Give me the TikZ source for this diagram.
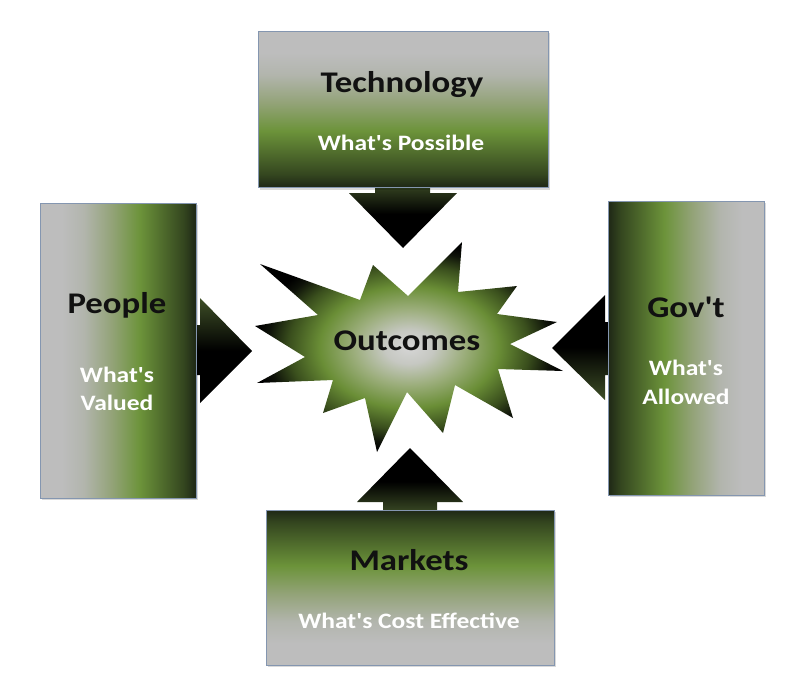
\documentclass[tikz,border=0pt]{standalone}
\usepackage{fontspec}
\setmainfont{Carlito}[FakeStretch=1.16, Ligatures=TeXOff]
\usetikzlibrary{shadings}
\definecolor{boxedge}{HTML}{8496B0}
\definecolor{txtdark}{HTML}{111111}
\definecolor{bxdark}{HTML}{1E2716}
\definecolor{bxdark2}{HTML}{34461F}
\definecolor{bxgreen}{HTML}{6C933A}
\definecolor{bxmid}{HTML}{93A378}
\definecolor{bxgrey1}{HTML}{B2B5AD}
\definecolor{bxgrey}{HTML}{BDBDBD}
\definecolor{stc0}{HTML}{D6D6D6}
\definecolor{stc1}{HTML}{C6C8C2}
\definecolor{stc2}{HTML}{9CAE7C}
\definecolor{stc3}{HTML}{6A8E36}
\definecolor{stc4}{HTML}{3A4F1D}
\definecolor{stc5}{HTML}{0E1209}
\definecolor{arrbase}{HTML}{3E4F27}
\pgfdeclareverticalshading{boxshade}{100bp}{color(0bp)=(bxdark); color(25bp)=(bxdark); color(29bp)=(bxdark2); color(43bp)=(bxgreen); color(52bp)=(bxmid); color(61bp)=(bxgrey1); color(68bp)=(bxgrey); color(100bp)=(bxgrey)}
\pgfdeclareradialshading{starshade}{\pgfpoint{0bp}{0bp}}{color(0bp)=(stc0); color(4bp)=(stc1); color(9bp)=(stc2); color(14.5bp)=(stc3); color(19.5bp)=(stc4); color(23bp)=(stc5); color(25bp)=(black); color(50bp)=(black)}
\tikzset{
  boxbase/.style={draw=boxedge, line width=0.8pt, shading=boxshade},
  shadowbox/.style={fill=black, opacity=0.15},
  arrowv/.style={shading=axis},
  title/.style={font=\bfseries\fontsize{30}{34}\selectfont, text=txtdark, anchor=base, inner sep=0pt},
  sub/.style={font=\bfseries\fontsize{22}{29}\selectfont, text=white, anchor=base, inner sep=0pt, align=center},
}
\begin{document}
\begin{tikzpicture}[x=1pt,y=-1pt]
\useasboundingbox (0,0) rectangle (800,696);
% arrows
\path[arrowv, top color=arrbase, bottom color=black, middle color=black]
  (375,180) -- (430,180) -- (430,193) -- (457,193) -- (403,248) -- (349,193) -- (375,193) -- cycle;
\path[arrowv, shading angle=90, top color=arrbase, bottom color=black, middle color=black]
  (190,325) -- (200,325) -- (200,298) -- (252,351) -- (200,403) -- (200,375) -- (190,375) -- cycle;
\path[arrowv, shading angle=90, top color=black, bottom color=arrbase, middle color=black]
  (615,322) -- (605,322) -- (605,295) -- (552,348) -- (605,400) -- (605,375) -- (615,375) -- cycle;
\path[arrowv, top color=black, bottom color=arrbase, middle color=black]
  (383,515) -- (383,502) -- (357,502) -- (410,448) -- (463,502) -- (437,502) -- (437,515) -- cycle;
% box shadows
\fill[shadowbox] (260,33) rectangle (550,190);
\fill[shadowbox] (42,205) rectangle (198,500);
\fill[shadowbox] (610,203) rectangle (766,497);
\fill[shadowbox] (268,512) rectangle (556,667);
% boxes
\path[boxbase] (258,31) rectangle (548,187) node[pos=0.5] (tech) {};
\path[boxbase, shading angle=90] (40,203) rectangle (196,498) node[pos=0.5] (people) {};
\path[boxbase, shading angle=-90] (608,201) rectangle (764,495) node[pos=0.5] (gov) {};
\path[boxbase, shading angle=180] (266,510) rectangle (554,665) node[pos=0.5] (mkt) {};
% star
\path[shading=starshade] (260,264) -- (360,300) -- (373,265) -- (408,296) -- (462,242) -- (458,292) -- (517,286) -- (497,314) -- (557,322) -- (510,344) -- (563,371) -- (498,369) -- (513,418) -- (455,385) -- (443,433) -- (407,392) -- (377,452) -- (365,398) -- (323,413) -- (333,380) -- (257,383) -- (305,357) -- (255,326) -- (318,315) -- cycle;
% texts
\node[title] (t1) at (402,92) {Technology};
\node[sub] (s1) at (401,150) {What's Possible};
\node[title] (t2) at (117,313) {People};
\node[sub] (s2a) at (117,382) {What's};
\node[sub] (s2b) at (117,410) {Valued};
\node[title] (t3) at (686,317) {Gov't};
\node[sub] (s3a) at (686,375) {What's};
\node[sub] (s3b) at (686,404) {Allowed};
\node[title] (t4) at (409,570) {Markets};
\node[sub] (s4) at (409,628) {What's Cost Effective};
\node[title] (t5) at (407,350) {Outcomes};
\end{tikzpicture}
\end{document}
